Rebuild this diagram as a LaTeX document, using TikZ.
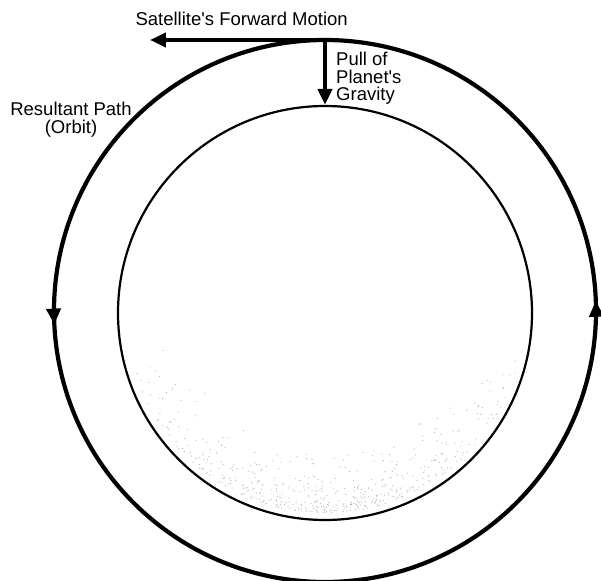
\documentclass[tikz,border=0pt]{standalone}
\usepackage{fontspec}
\newfontfamily\lblfont{Liberation Sans}
\usetikzlibrary{arrows.meta,decorations.markings}
\tikzset{
  planet/.style={circle,draw,line width=2.2pt,minimum size=414pt,inner sep=0pt},
  orbitline/.style={line width=4.2pt,
    decoration={markings,
      mark=at position 0.006 with {\arrow{Triangle[length=16pt,width=14pt]}},
      mark=at position 0.508 with {\arrow{Triangle[length=16pt,width=14pt]}}},
    postaction={decorate}},
  force/.style={-{Triangle[length=16pt,width=14pt]},line width=4pt},
  lbl/.style={font=\lblfont\fontsize{18.5}{17.5}\selectfont,inner sep=0pt},
  speck/.style={fill=black!30}
}

\begin{document}
\begin{tikzpicture}[x=1pt,y=1pt]
\useasboundingbox (-325,-269) rectangle (276,311);

% planet and its faint stippling
\node[planet] (planet) at (0,-2) {};
\pgfmathsetseed{11}
\foreach \i in {1,...,500}{
  \pgfmathsetmacro\ang{270+80*(rnd-rnd)}
  \pgfmathsetmacro\rad{200-60*rnd*rnd}
  \fill[speck] ([shift={(\ang:\rad pt)}]planet.center) circle (0.6pt);
}

% orbit
\draw[orbitline] (0,0) circle (271pt);

\coordinate (sat) at (0,271);
\coordinate (fwd) at (-175,271);
\draw[force] (sat) -- (fwd);
\draw[force] (sat) -- (planet.north);

\node[lbl,anchor=base east] (fwdlbl) at (23,285) {Satellite's Forward Motion};
\node[lbl,anchor=north west,align=left] (pulllbl) at (11,259) {Pull of\\Planet's\\Gravity};
\node[lbl,anchor=north,align=center] (pathlbl) at (-254,209) {Resultant Path\\(Orbit)};
\end{tikzpicture}
\end{document}
